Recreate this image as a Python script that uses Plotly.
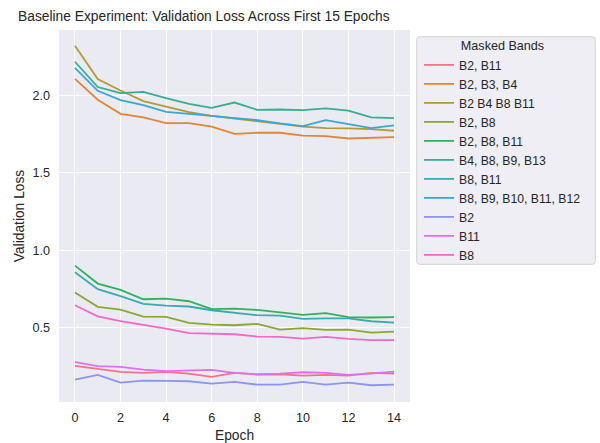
import math
import plotly.graph_objects as go

# ---- data -------------------------------------------------------------
epochs = list(range(15))

band_sets = [
    "B2, B11",
    "B2, B3, B4",
    "B2 B4 B8 B11",
    "B2, B8",
    "B2, B8, B11",
    "B4, B8, B9, B13",
    "B8, B11",
    "B8, B9, B10, B11, B12",
    "B2",
    "B11",
    "B8",
]

loss_b2_b11 = [0.253, 0.234, 0.214, 0.208, 0.214, 0.203, 0.182, 0.208, 0.197, 0.199,
               0.190, 0.195, 0.190, 0.208, 0.203]
loss_b2_b3_b4 = [2.105, 1.970, 1.879, 1.856, 1.819, 1.819, 1.797, 1.750, 1.757, 1.757,
                 1.739, 1.735, 1.720, 1.725, 1.729]
loss_b2_b4_b8_b11 = [2.318, 2.103, 2.030, 1.961, 1.926, 1.890, 1.866, 1.849, 1.836, 1.815,
                     1.797, 1.787, 1.785, 1.780, 1.770]
loss_b2_b8 = [0.726, 0.634, 0.616, 0.571, 0.569, 0.530, 0.519, 0.515, 0.524, 0.487,
              0.496, 0.485, 0.487, 0.468, 0.474]
loss_b2_b8_b11 = [0.900, 0.784, 0.743, 0.683, 0.687, 0.670, 0.619, 0.623, 0.614, 0.597,
                  0.582, 0.593, 0.567, 0.565, 0.567]
loss_b4_b8_b9_b13 = [2.215, 2.052, 2.013, 2.021, 1.980, 1.944, 1.918, 1.952, 1.905, 1.907,
                     1.903, 1.914, 1.900, 1.856, 1.852]
loss_b8_b11 = [0.857, 0.748, 0.703, 0.653, 0.642, 0.636, 0.612, 0.597, 0.580, 0.577,
               0.556, 0.560, 0.560, 0.541, 0.532]
loss_b8_b9_b10_b11_b12 = [2.176, 2.028, 1.968, 1.935, 1.892, 1.877, 1.866, 1.852, 1.839, 1.817,
                          1.800, 1.839, 1.813, 1.787, 1.804]
loss_b2 = [0.165, 0.195, 0.145, 0.158, 0.156, 0.154, 0.139, 0.150, 0.132, 0.132,
           0.150, 0.132, 0.145, 0.128, 0.132]
loss_b11 = [0.277, 0.251, 0.246, 0.229, 0.219, 0.223, 0.227, 0.208, 0.199, 0.203,
            0.212, 0.208, 0.195, 0.203, 0.216]
loss_b8 = [0.644, 0.573, 0.541, 0.517, 0.494, 0.464, 0.461, 0.457, 0.442, 0.440,
           0.429, 0.440, 0.427, 0.419, 0.419]

series = [
    loss_b2_b11, loss_b2_b3_b4, loss_b2_b4_b8_b11, loss_b2_b8, loss_b2_b8_b11,
    loss_b4_b8_b9_b13, loss_b8_b11, loss_b8_b9_b10_b11_b12, loss_b2, loss_b11, loss_b8,
]

x_ticks = [0, 2, 4, 6, 8, 10, 12, 14]
y_ticks = [0.5, 1.0, 1.5, 2.0]


# ---- HUSL palette (same construction as seaborn's husl_palette) ---------
_M = [[3.2406, -1.5372, -0.4986],
      [-0.9689, 1.8758, 0.0415],
      [0.0557, -0.2040, 1.0570]]
_REF_Y, _REF_U, _REF_V = 1.0, 0.19784, 0.46834
_KAPPA, _EPS = 903.3, 0.008856


def _max_chroma(L, H):
    hrad = math.radians(H)
    sin_h, cos_h = math.sin(hrad), math.cos(hrad)
    sub1 = (L + 16) ** 3 / 1560896.0
    sub2 = sub1 if sub1 > _EPS else L / _KAPPA
    result = float("inf")
    for m1, m2, m3 in _M:
        top = (0.99915 * m1 + 1.05122 * m2 + 1.14460 * m3) * sub2
        rbottom = 0.86330 * m3 - 0.17266 * m2
        lbottom = 0.12949 * m3 - 0.38848 * m1
        bottom = (rbottom * sin_h + lbottom * cos_h) * sub2
        for t in (0.0, 1.0):
            c = L * (top - 1.05122 * t) / (bottom + 0.17266 * sin_h * t)
            if 0 < c < result:
                result = c
    return result


def _from_linear(c):
    if c <= 0.0031308:
        return 12.92 * c
    return 1.055 * c ** (1 / 2.4) - 0.055


def husl_to_hex(h, s, l):
    C = _max_chroma(l, h) / 100.0 * s
    hrad = math.radians(h)
    U, V = math.cos(hrad) * C, math.sin(hrad) * C
    var_y = _REF_Y * ((l + 16) / 116.0) ** 3 if l > 8 else _REF_Y * l / _KAPPA
    var_u = U / (13 * l) + _REF_U
    var_v = V / (13 * l) + _REF_V
    Y = var_y * _REF_Y
    X = -(9 * Y * var_u) / ((var_u - 4) * var_v - var_u * var_v)
    Z = (9 * Y - 15 * var_v * Y - var_v * X) / (3 * var_v)
    rgb = []
    for row in _M:
        v = _from_linear(row[0] * X + row[1] * Y + row[2] * Z)
        rgb.append(min(max(v, 0.0), 1.0))
    return "#%02x%02x%02x" % tuple(int(round(v * 255)) for v in rgb)


def husl_palette(n, h=0.01, s=0.9, l=0.65):
    hues = [((i / n) + h) % 1 * 359 for i in range(n)]
    return [husl_to_hex(hh, s * 99, l * 99) for hh in hues]


colors = husl_palette(len(band_sets))

# ---- layout geometry (pixels) -------------------------------------------
W, H = 600, 443
ML, MR, MT, MB = 59, 190, 30, 41
PW, PH = W - ML - MR, H - MT - MB


def px_to_paper(px, py):
    return (px - ML) / PW, (H - MB - py) / PH


def rounded_box(x0, y0, x1, y1, r):
    """SVG path (paper coords) for a rounded rectangle given in pixels."""
    def P(px, py):
        u, v = px_to_paper(px, py)
        return f"{u:.5f},{v:.5f}"

    return " ".join([
        f"M {P(x0 + r, y0)}",
        f"L {P(x1 - r, y0)}",
        f"Q {P(x1, y0)} {P(x1, y0 + r)}",
        f"L {P(x1, y1 - r)}",
        f"Q {P(x1, y1)} {P(x1 - r, y1)}",
        f"L {P(x0 + r, y1)}",
        f"Q {P(x0, y1)} {P(x0, y1 - r)}",
        f"L {P(x0, y0 + r)}",
        f"Q {P(x0, y0)} {P(x0 + r, y0)} Z",
    ])


# ---- figure -------------------------------------------------------------
FONT = "Liberation Sans, Arial, sans-serif"
TEXT = "#262626"

fig = go.Figure()
for name, vals, col in zip(band_sets, series, colors):
    fig.add_trace(go.Scatter(
        x=epochs, y=vals, mode="lines", name=name,
        line=dict(color=col, width=1.8),
    ))

# legend frame
fig.add_shape(
    type="path", xref="paper", yref="paper",
    path=rounded_box(416.7, 36.7, 595.3, 264.3, 3),
    fillcolor="#EEEEF4", line=dict(color="#D3D3D3", width=1),
    layer="below",
)

lx, ly = px_to_paper(419, 34)

fig.update_layout(
    width=W, height=H,
    margin=dict(l=ML, r=MR, t=MT, b=MB, pad=0, autoexpand=False),
    paper_bgcolor="white",
    plot_bgcolor="#EAEAF2",
    font=dict(family=FONT, size=12.6, color=TEXT),
    title=dict(
        text="Baseline Experiment: Validation Loss Across First 15 Epochs",
        x=18 / W, xref="container", xanchor="left",
        y=1 - 16 / H, yref="container", yanchor="middle",
        font=dict(family=FONT, size=13.8, color=TEXT),
    ),
    xaxis=dict(
        range=[-0.7, 14.7], tickvals=x_ticks, showgrid=True, gridcolor="white",
        gridwidth=1.3, zeroline=False, showline=False, ticks="",
        ticklabelstandoff=6, automargin=False,
        title=dict(text="Epoch", font=dict(size=13.8), standoff=6),
    ),
    yaxis=dict(
        range=[0.02, 2.42], tickvals=y_ticks, tickformat=".1f", showgrid=True,
        gridcolor="white", gridwidth=1.3, zeroline=False, showline=False, ticks="",
        ticklabelstandoff=8, automargin=False,
        title=dict(text="Validation Loss", font=dict(size=13.8), standoff=4),
    ),
    legend=dict(
        x=lx, xanchor="left", y=ly, yanchor="top",
        bgcolor="rgba(0,0,0,0)", borderwidth=0,
        font=dict(size=12.2, color=TEXT),
        title=dict(text="Masked Bands", side="top center",
                   font=dict(size=12.6, color=TEXT)),
        tracegroupgap=0,
    ),
    showlegend=True,
)

fig.write_html("out.html")
